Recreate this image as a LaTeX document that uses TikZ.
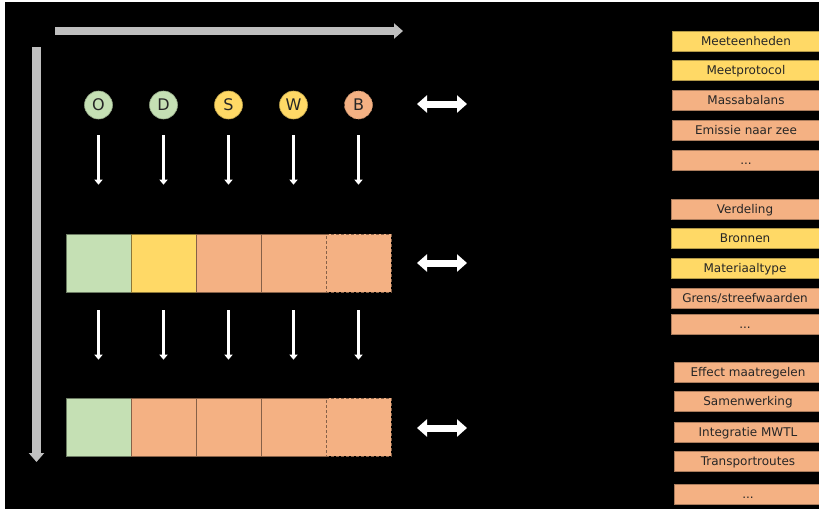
\documentclass[tikz,border=0pt]{standalone}
\usepackage{fontspec}
\setmainfont{DejaVu Sans}
\usetikzlibrary{arrows.meta}
\definecolor{axisgray}{HTML}{BFBFBF}
\definecolor{cgreen}{HTML}{C5E0B4}
\definecolor{cyellow}{HTML}{FFD966}
\definecolor{corange}{HTML}{F4B183}
\definecolor{txt}{HTML}{262626}

\begin{document}
\begin{tikzpicture}[x=1pt,y=-1pt,
  letter/.style={circle,draw=#1!75!black,fill=#1,minimum size=28pt,inner sep=0pt,
    font=\fontsize{16}{16}\selectfont,text=txt,line width=0.6pt,
    text height=11.6pt,text depth=0pt},
  cell/.style={rectangle,fill=#1,draw=#1!55!black,minimum width=65pt,minimum height=58pt,
    inner sep=0pt,line width=0.6pt},
  tag/.style={rectangle,fill=#1,draw=#1!70!black,minimum width=148pt,minimum height=20pt,
    inner sep=0pt,font=\fontsize{12}{12}\selectfont,text=txt,line width=0.6pt,
    text height=8.7pt,text depth=0pt},
  flow/.style={draw=white,line width=3pt,-{Triangle[width=8pt,length=5pt]}},
  link/.style={draw=white,line width=7pt,
    {Triangle[width=17pt,length=10pt]}-{Triangle[width=17pt,length=10pt]}},
  axis/.style={draw=axisgray,line width=8.5pt,-{Triangle[width=15pt,length=9pt]}}]

% canvas
\useasboundingbox (0,0) rectangle (819,509);
\fill[white] (0,0) rectangle (819,509);
\fill[black] (5,2) rectangle (819,509);

% axes
\coordinate (hx0) at (55,31);
\coordinate (hx1) at (403,31);
\coordinate (vy0) at (36.5,47);
\coordinate (vy1) at (36.5,462);
\draw[axis] (hx0) -- (hx1);
\draw[axis] (vy0) -- (vy1);

% letters
\node[letter=cgreen]  (cO) at (98.5,105) {O};
\node[letter=cgreen]  (cD) at (163.5,105) {D};
\node[letter=cyellow] (cS) at (228.5,105) {S};
\node[letter=cyellow] (cW) at (293.5,105) {W};
\node[letter=corange,densely dashed] (cB) at (358.5,105) {B};

% first row of cells
\node[cell=cgreen]  (a1) at (98.5,263) {};
\node[cell=cyellow] (a2) at (163.5,263) {};
\node[cell=corange] (a3) at (228.5,263) {};
\node[cell=corange] (a4) at (293.5,263) {};
\node[cell=corange,densely dashed] (a5) at (358.5,263) {};

% second row of cells
\node[cell=cgreen]  (b1) at (98.5,427) {};
\node[cell=corange] (b2) at (163.5,427) {};
\node[cell=corange] (b3) at (228.5,427) {};
\node[cell=corange] (b4) at (293.5,427) {};
\node[cell=corange,densely dashed] (b5) at (358.5,427) {};

% vertical flows
\foreach \c/\a in {cO/a1,cD/a2,cS/a3,cW/a4,cB/a5}
  \draw[flow,shorten <=16pt,shorten >=49pt] (\c.south) -- (\a.north);
\foreach \a/\b in {a1/b1,a2/b2,a3/b3,a4/b4,a5/b5}
  \draw[flow,shorten <=18pt,shorten >=38pt] (\a.south) -- (\b.north);

% links to the lists
\coordinate (l1a) at (417,104); \coordinate (l1b) at (467,104);
\coordinate (l2a) at (417,263); \coordinate (l2b) at (467,263);
\coordinate (l3a) at (417,428); \coordinate (l3b) at (467,428);
\draw[link] (l1a) -- (l1b);
\draw[link] (l2a) -- (l2b);
\draw[link] (l3a) -- (l3b);

% lists
\node[tag=cyellow] (t1)  at (746,41)  {Meeteenheden};
\node[tag=cyellow] (t2)  at (746,70)  {Meetprotocol};
\node[tag=corange] (t3)  at (746,100) {Massabalans};
\node[tag=corange] (t4)  at (746,130) {Emissie naar zee};
\node[tag=corange] (t5)  at (746,160) {...};

\node[tag=corange] (t6)  at (745,209) {Verdeling};
\node[tag=cyellow] (t7)  at (745,238) {Bronnen};
\node[tag=cyellow] (t8)  at (745,268) {Materiaaltype};
\node[tag=corange] (t9)  at (745,298) {Grens/streefwaarden};
\node[tag=corange] (t10) at (745,324) {...};

\node[tag=corange] (t11) at (748,372) {Effect maatregelen};
\node[tag=corange] (t12) at (748,401) {Samenwerking};
\node[tag=corange] (t13) at (748,432) {Integratie MWTL};
\node[tag=corange] (t14) at (748,461) {Transportroutes};
\node[tag=corange] (t15) at (748,494) {...};
\end{tikzpicture}
\end{document}
